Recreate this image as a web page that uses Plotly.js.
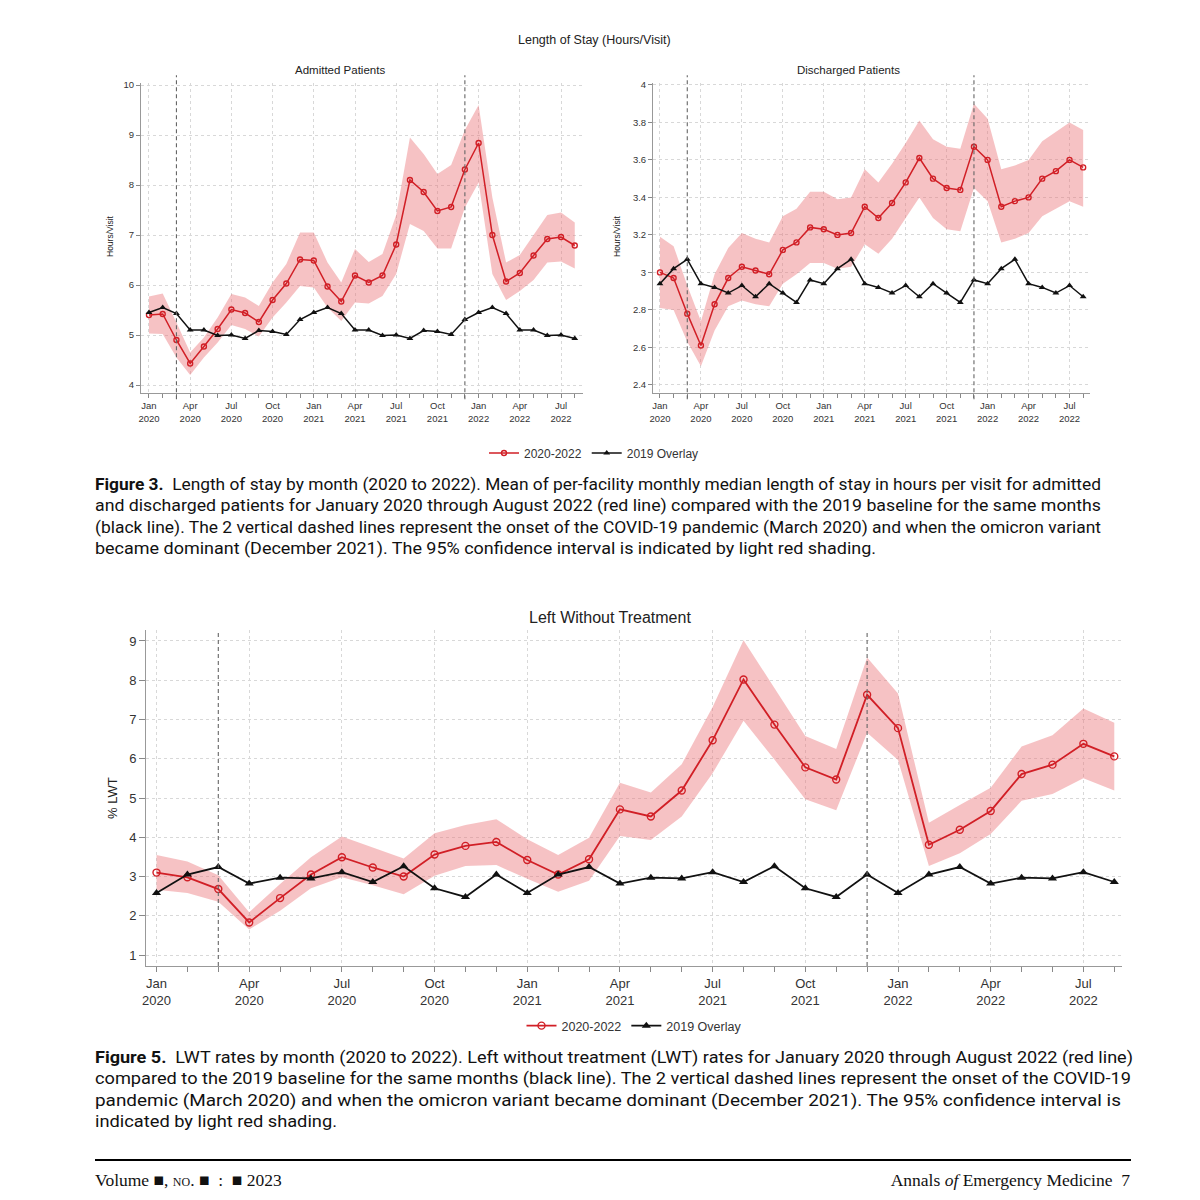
<!DOCTYPE html>
<html>
<head>
<meta charset="utf-8">
<script src="https://cdn.plot.ly/plotly-3.0.1.min.js"></script>
<style>
  html, body { margin: 0; padding: 0; background: #fff; }
  #page { position: relative; width: 1200px; height: 1200px; overflow: hidden; background: #fff; }
  #plot { position: absolute; left: 0; top: 0; width: 1200px; height: 1200px; }
  .cap { position: absolute; left: 95px; font-family: Roboto, "Liberation Sans", Arial, sans-serif; font-size: 16px; color: #111; line-height: 21.4px; }
  .ln { white-space: nowrap; display: block; transform-origin: 0 50%; width: max-content; }
  .cap b { font-weight: 700; }
  #rule { position: absolute; left: 95px; top: 1159px; width: 1036px; height: 2px; background: #000; }
  .foot { position: absolute; top: 1170px; font-family: "Liberation Serif", "DejaVu Serif", serif; font-size: 17.5px; color: #111; white-space: nowrap; }
  .sc { font-variant: small-caps; }
</style>
</head>
<body>
<div id="page">
  <div id="plot"></div>
  <div class="cap" style="top:474px;">
    <span class="ln" data-w="1006"><b>Figure 3.</b>&nbsp; Length of stay by month (2020 to 2022). Mean of per-facility monthly median length of stay in hours per visit for admitted</span>
    <span class="ln" data-w="1006">and discharged patients for January 2020 through August 2022 (red line) compared with the 2019 baseline for the same months</span>
    <span class="ln" data-w="1006">(black line). The 2 vertical dashed lines represent the onset of the COVID-19 pandemic (March 2020) and when the omicron variant</span>
    <span class="ln" data-w="781">became dominant (December 2021). The 95% confidence interval is indicated by light red shading.</span>
  </div>
  <div class="cap" style="top:1047px;">
    <span class="ln" data-w="1038"><b>Figure 5.</b>&nbsp; LWT rates by month (2020 to 2022). Left without treatment (LWT) rates for January 2020 through August 2022 (red line)</span>
    <span class="ln" data-w="1036">compared to the 2019 baseline for the same months (black line). The 2 vertical dashed lines represent the onset of the COVID-19</span>
    <span class="ln" data-w="1026">pandemic (March 2020) and when the omicron variant became dominant (December 2021). The 95% confidence interval is</span>
    <span class="ln" data-w="242">indicated by light red shading.</span>
  </div>
  <div id="rule"></div>
  <div class="foot" style="left:95px;">Volume &#9632;, <span class="sc">no.</span> &#9632; &nbsp;: &nbsp;&#9632; 2023</div>
  <div class="foot" style="right:70px;">Annals <i>of</i> Emergency Medicine &nbsp;7</div>
</div>
<script>
// ---------- data ----------
const months = ['Jan 2020','Feb 2020','Mar 2020','Apr 2020','May 2020','Jun 2020','Jul 2020','Aug 2020','Sep 2020','Oct 2020','Nov 2020','Dec 2020',
                'Jan 2021','Feb 2021','Mar 2021','Apr 2021','May 2021','Jun 2021','Jul 2021','Aug 2021','Sep 2021','Oct 2021','Nov 2021','Dec 2021',
                'Jan 2022','Feb 2022','Mar 2022','Apr 2022','May 2022','Jun 2022','Jul 2022','Aug 2022'];
const tickMonths = ['Jan 2020','Apr 2020','Jul 2020','Oct 2020','Jan 2021','Apr 2021','Jul 2021','Oct 2021','Jan 2022','Apr 2022','Jul 2022'];
const eventMonths = ['Mar 2020','Dec 2021'];

// Admitted patients LOS (hours/visit)
const admMean  = [5.40,5.42,4.90,4.43,4.77,5.12,5.51,5.44,5.26,5.70,6.03,6.51,6.49,5.97,5.67,6.19,6.05,6.19,6.81,8.10,7.86,7.48,7.56,8.31,8.84,7.00,6.07,6.24,6.59,6.92,6.96,6.79];
const admUpper = [5.77,5.83,5.25,4.65,4.95,5.35,5.82,5.75,5.58,6.05,6.42,7.05,7.05,6.45,6.05,6.72,6.46,6.62,7.40,8.95,8.62,8.22,8.40,9.10,9.60,7.75,6.45,6.60,7.00,7.40,7.45,7.25];
const admLower = [5.03,5.02,4.55,4.20,4.55,4.85,5.20,5.12,4.97,5.35,5.65,5.98,5.95,5.55,5.28,5.65,5.63,5.78,6.22,7.22,7.08,6.73,6.73,7.55,8.05,6.22,5.70,5.88,6.10,6.45,6.47,6.33];
const admBase  = [5.45,5.55,5.43,5.10,5.10,4.99,5.00,4.93,5.09,5.07,5.01,5.31,5.45,5.55,5.43,5.10,5.10,4.99,5.00,4.93,5.09,5.07,5.01,5.31,5.45,5.55,5.43,5.10,5.10,4.99,5.00,4.93];

// Discharged patients LOS (hours/visit)
const disMean  = [3.00,2.97,2.78,2.61,2.83,2.97,3.03,3.01,2.99,3.12,3.16,3.24,3.23,3.20,3.21,3.35,3.29,3.37,3.48,3.61,3.50,3.45,3.44,3.67,3.60,3.35,3.38,3.40,3.50,3.54,3.60,3.56];
const disUpper = [3.19,3.14,2.93,2.74,2.99,3.13,3.21,3.18,3.16,3.30,3.34,3.43,3.43,3.39,3.40,3.55,3.48,3.58,3.69,3.81,3.71,3.67,3.66,3.90,3.82,3.55,3.57,3.60,3.70,3.75,3.80,3.76];
const disLower = [2.81,2.80,2.63,2.50,2.69,2.82,2.85,2.83,2.82,2.94,2.99,3.05,3.05,3.02,3.03,3.15,3.10,3.18,3.29,3.40,3.29,3.23,3.22,3.45,3.38,3.16,3.18,3.21,3.30,3.34,3.38,3.35];
const disBase  = [2.94,3.02,3.07,2.94,2.92,2.89,2.93,2.87,2.94,2.89,2.84,2.96,2.94,3.02,3.07,2.94,2.92,2.89,2.93,2.87,2.94,2.89,2.84,2.96,2.94,3.02,3.07,2.94,2.92,2.89,2.93,2.87];

// Left without treatment (%)
const lwtMean  = [3.10,2.98,2.68,1.83,2.45,3.05,3.49,3.23,3.00,3.56,3.78,3.88,3.42,3.05,3.44,4.71,4.53,5.19,6.47,8.02,6.87,5.78,5.47,7.63,6.78,3.81,4.19,4.67,5.61,5.85,6.38,6.06];
const lwtUpper = [3.55,3.38,3.03,2.09,2.81,3.49,4.02,3.74,3.46,4.10,4.31,4.46,3.95,3.55,3.99,5.39,5.14,5.86,7.32,9.02,7.79,6.58,6.25,8.58,7.66,4.37,4.82,5.26,6.31,6.60,7.28,6.92];
const lwtLower = [2.66,2.58,2.36,1.65,2.13,2.70,2.98,2.78,2.55,3.02,3.27,3.29,2.94,2.61,2.89,4.03,3.93,4.53,5.63,6.97,5.98,4.97,4.69,6.66,5.97,3.27,3.59,4.08,4.93,5.10,5.50,5.19];
const lwtBase  = [2.58,3.05,3.24,2.82,2.97,2.95,3.11,2.86,3.26,2.70,2.48,3.05,2.58,3.05,3.24,2.82,2.97,2.95,3.11,2.86,3.26,2.70,2.48,3.05,2.58,3.05,3.24,2.82,2.97,2.95,3.11,2.86];

const admTicks = [4,5,6,7,8,9,10];
const disTicks = [2.4,2.6,2.8,3,3.2,3.4,3.6,3.8,4];
const disTickText = ['2.4','2.6','2.8','3','3.2','3.4','3.6','3.8','4'];
const lwtTicks = [1,2,3,4,5,6,7,8,9];

const seriesNames = ['2020-2022','2019 Overlay'];

// ---------- styles ----------
const RED = '#d11f26';
const BAND = 'rgba(235,120,125,0.45)';
const BLACK = '#111111';
const x = months.map((m, i) => i);
const tickvals = tickMonths.map(m => months.indexOf(m));
const ticktext = tickMonths.map(m => m.replace(' ', '<br>'));

function panel(xa, ya, mean, up, lo, base, legendId, showLeg, big) {
  const ms = big ? 7 : 5;
  return [
    {x: x, y: lo, xaxis: xa, yaxis: ya, type: 'scatter', mode: 'lines', line: {width: 0, color: BAND}, showlegend: false, hoverinfo: 'skip'},
    {x: x, y: up, xaxis: xa, yaxis: ya, type: 'scatter', mode: 'lines', line: {width: 0, color: BAND}, fill: 'tonexty', fillcolor: BAND, showlegend: false, hoverinfo: 'skip'},
    {x: x, y: mean, xaxis: xa, yaxis: ya, type: 'scatter', mode: 'lines+markers', name: seriesNames[0], legend: legendId, showlegend: showLeg,
     line: {color: RED, width: big ? 1.8 : 1.5}, marker: {symbol: 'circle-open', size: ms, color: RED, line: {width: 1.4, color: RED}}},
    {x: x, y: base, xaxis: xa, yaxis: ya, type: 'scatter', mode: 'lines+markers', name: seriesNames[1], legend: legendId, showlegend: showLeg,
     line: {color: BLACK, width: big ? 1.8 : 1.5}, marker: {symbol: 'triangle-up', size: big ? 8 : 6, color: BLACK}}
  ];
}

const data = [].concat(
  panel('x', 'y', admMean, admUpper, admLower, admBase, 'legend', true, false),
  panel('x2', 'y2', disMean, disUpper, disLower, disBase, 'legend', false, false),
  panel('x3', 'y3', lwtMean, lwtUpper, lwtLower, lwtBase, 'legend2', true, true)
);

function xax(domain, range, anchor, fs) {
  return {
    domain: domain, range: range, anchor: anchor,
    tickmode: 'array', tickvals: tickvals, ticktext: ticktext,
    ticks: 'outside', ticklen: fs > 11 ? 5 : 4, tickcolor: '#888', tickwidth: 1,
    showline: true, linecolor: '#999', linewidth: 1,
    showgrid: true, gridcolor: '#d8d8d8', griddash: 'dot', gridwidth: 1,
    zeroline: false,
    tickfont: {family: 'Liberation Sans, Arial, sans-serif', size: fs, color: '#333'},
    minor: {tickmode: 'array', tickvals: x, ticks: 'outside', ticklen: fs > 11 ? 5 : 4, tickcolor: '#888', showgrid: false},
    fixedrange: true
  };
}
function yax(domain, range, anchor, tv, tt, fs) {
  const o = {
    domain: domain, range: range, anchor: anchor,
    tickmode: 'array', tickvals: tv,
    ticks: 'outside', ticklen: fs > 11 ? 6 : 4, tickcolor: '#888', tickwidth: 1,
    showline: true, linecolor: '#999', linewidth: 1,
    showgrid: true, gridcolor: '#d8d8d8', griddash: 'dot', gridwidth: 1,
    zeroline: false,
    tickfont: {family: 'Liberation Sans, Arial, sans-serif', size: fs, color: '#333'},
    fixedrange: true
  };
  if (tt) o.ticktext = tt;
  return o;
}

const shapes = [];
[['x', 'y', -0.02, 1.025], ['x2', 'y2', -0.02, 1.025], ['x3', 'y3', 0, 1]].forEach(([xa, ya, y0, y1]) => {
  eventMonths.forEach(m => {
    const v = months.indexOf(m);
    shapes.push({type: 'line', xref: xa, yref: ya + ' domain', x0: v, x1: v, y0: y0, y1: y1,
                 line: {color: '#666', width: 1.1, dash: '4px,3px'}});
  });
});

const P = v => v / 1200;
const Q = v => 1 - v / 1200;
const F = 'Liberation Sans, Arial, sans-serif';
function ann(text, px, py, size, angle) {
  const a = {text: text, xref: 'paper', yref: 'paper', x: P(px), y: Q(py), xanchor: 'center', yanchor: 'middle',
             showarrow: false, font: {family: F, size: size, color: '#222'}};
  if (angle) a.textangle = angle;
  return a;
}

const layout = {
  width: 1200, height: 1200,
  margin: {l: 0, r: 0, t: 0, b: 0},
  paper_bgcolor: '#fff', plot_bgcolor: '#fff',
  showlegend: true,
  xaxis:  xax([P(141), P(583)], [-0.58, 31.6], 'y', 9.5),
  yaxis:  yax([Q(393), Q(83)], [3.84, 10.04], 'x', admTicks, null, 9.5),
  xaxis2: xax([P(653), P(1090)], [-0.51, 31.5], 'y2', 9.5),
  yaxis2: yax([Q(393), Q(83)], [2.357, 4.01], 'x2', disTicks, disTickText, 9.5),
  xaxis3: xax([P(146), P(1122)], [-0.34, 31.25], 'y3', 13),
  yaxis3: yax([Q(966), Q(630)], [0.72, 9.28], 'x3', lwtTicks, null, 13),
  legend: {orientation: 'h', traceorder: 'normal', x: P(594), xanchor: 'center', y: Q(453), yanchor: 'middle',
           font: {family: F, size: 12, color: '#333'}, bgcolor: 'rgba(0,0,0,0)', itemwidth: 30},
  legend2: {orientation: 'h', traceorder: 'normal', x: P(634), xanchor: 'center', y: Q(1026), yanchor: 'middle',
           font: {family: F, size: 12.5, color: '#333'}, bgcolor: 'rgba(0,0,0,0)', itemwidth: 30},
  shapes: shapes,
  annotations: [
    ann('Length of Stay (Hours/Visit)', 594, 40, 12.5),
    ann('Admitted Patients', 340, 70, 11.5),
    ann('Discharged Patients', 848, 70, 11.5),
    ann('Hours/Visit', 110, 236, 8.5, -90),
    ann('Hours/Visit', 617, 236, 8.5, -90),
    ann('Left Without Treatment', 610, 617, 16),
    ann('% LWT', 112, 798, 13, -90)
  ]
};

Plotly.newPlot('plot', data, layout, {displayModeBar: false, staticPlot: true});

// fit caption lines to reference line lengths
function fitLines() {
  document.querySelectorAll('.ln').forEach(el => {
    el.style.transform = 'none';
    const w = el.getBoundingClientRect().width;
    const target = parseFloat(el.dataset.w);
    if (w > 0) el.style.transform = 'scaleX(' + (target / w).toFixed(4) + ')';
  });
}
fitLines();
if (document.fonts && document.fonts.ready) document.fonts.ready.then(fitLines);
</script>
</body>
</html>
